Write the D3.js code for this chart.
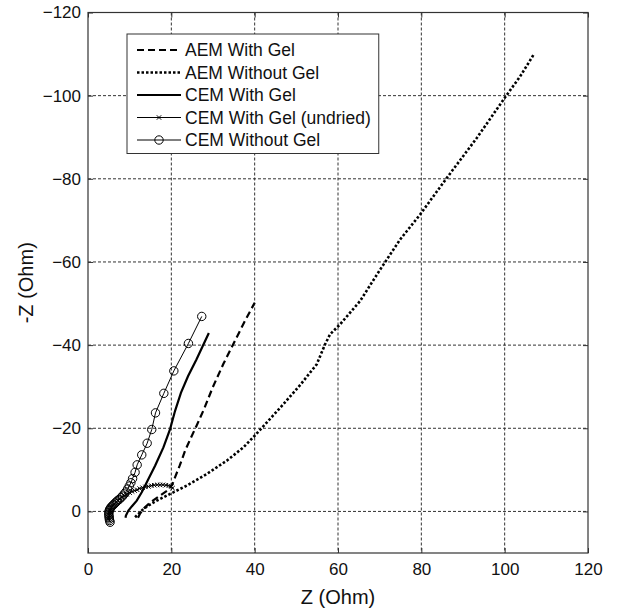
<!DOCTYPE html>
<html>
<head>
<meta charset="utf-8">
<script src="https://cdn.jsdelivr.net/npm/d3@7.9.0/dist/d3.min.js"></script>
<style>
  body { margin: 0; background: #fff; }
  text { font-family: Arial, "Liberation Sans", sans-serif; fill: #111; }
</style>
</head>
<body>
<svg id="chart" width="622" height="610"></svg>
<script>
// axis ticks
const xTicks = [0, 20, 40, 60, 80, 100, 120];
const yTicks = [-120, -100, -80, -60, -40, -20, 0];

// series data, [Z, -Z] pairs
const aemWithGel = [[12.0, 1.5], [12.5, 0.5], [13.5, -0.8], [15, -2.2], [17, -3.6], [19, -5.0], [20.2, -6.4], [21, -8.5], [22, -11], [23.3, -14.6], [24.6, -17.5], [26, -20.5], [27.8, -24.5], [30, -30], [32.5, -35.5], [35, -40.5], [37.5, -45.5], [40, -50.2]];
const aemWithoutGel = [[11.3, 1.4], [12.3, 0.4], [13.3, -0.6], [14.8, -1.6], [16.5, -2.6], [19.7, -4.2], [23.7, -6.2], [28.5, -9], [33.3, -12.2], [37.3, -15.4], [40, -18.2], [43, -21.5], [46.9, -25.8], [51, -30.5], [54.9, -35.4], [56.9, -40.2], [58.1, -42.6], [60.5, -45], [65.3, -50.6], [70, -58], [74.9, -65.4], [79.7, -71.4], [86.1, -80.2], [93.3, -89.8], [100.1, -99.6], [103.7, -104.6], [107.1, -110.1]];
const cemWithGel = [[9.0, 1.5], [9.1, 1.0], [9.7, -0.2], [10.5, -1.2], [11.7, -2.6], [12.9, -4.6], [14.5, -7.8], [16.1, -11], [18.1, -15.4], [19.7, -19.8], [20.9, -24.2], [22.3, -28.5], [24, -32.5], [26, -36.5], [29.0, -42.9]];
const cemWithGelUndried = [[5.0, 2.0], [5.0, 1.5], [5.1, 1.0], [5.1, 0.5], [5.2, 0.1], [5.3, -0.3], [5.5, -0.7], [5.7, -1.0], [6.0, -1.4], [6.3, -1.8], [6.7, -2.2], [7.1, -2.6], [7.6, -3.0], [8.1, -3.4], [8.7, -3.8], [9.3, -4.1], [10.0, -4.5], [10.6, -4.8], [11.2, -5.0], [11.8, -5.2], [12.4, -5.5], [13.1, -5.7], [13.8, -5.9], [14.5, -6.0], [15.2, -6.2], [15.9, -6.3], [16.6, -6.4], [17.3, -6.4], [18.0, -6.4], [18.7, -6.3], [19.4, -6.2], [20.0, -6.0], [20.3, -5.6]];
const cemWithoutGel = [[5.3, 2.6], [5.2, 2.2], [5.1, 1.8], [5.1, 1.4], [5.0, 1.0], [5.0, 0.6], [5.0, 0.2], [5.1, -0.2], [5.2, -0.5], [5.4, -0.8], [5.6, -1.1], [5.9, -1.4], [6.2, -1.7], [6.5, -2.0], [6.8, -2.3], [7.1, -2.6], [7.5, -2.9], [7.9, -3.3], [8.3, -3.7], [8.7, -4.2], [9.1, -4.7], [9.5, -5.4], [9.9, -6.1], [10.3, -6.9], [10.7, -7.9], [11.3, -9.4], [11.8, -11.2], [12.9, -13.6], [14.2, -16.4], [15.3, -19.7], [16.2, -23.7], [18.2, -28.4], [20.6, -33.8], [24.1, -40.4], [27.3, -46.9]];

const seriesNames = ["AEM With Gel", "AEM Without Gel", "CEM With Gel", "CEM With Gel (undried)", "CEM Without Gel"];

// styles per series
const series = [
    { name: seriesNames[0], data: aemWithGel, width: 2.2, dash: "7,4", marker: null },
    { name: seriesNames[1], data: aemWithoutGel, width: 2.6, dash: "2.5,2", marker: null },
    { name: seriesNames[2], data: cemWithGel, width: 2.2, dash: null, marker: null },
    { name: seriesNames[3], data: cemWithGelUndried, width: 1, dash: null, marker: "x" },
    { name: seriesNames[4], data: cemWithoutGel, width: 1, dash: null, marker: "o" },
];

const svg = d3.select("#chart");
const plotLeft = 88, plotRight = 588, plotTop = 12.5, plotBottom = 553;

let x = d3.scaleLinear().domain([0, 120]).range([plotLeft, plotRight]);
let y = d3.scaleLinear().domain([10, -120]).range([plotBottom, plotTop]);

// dotted grid
const grid = svg.append("g").attr("stroke", "#333").attr("stroke-width", 1).attr("stroke-dasharray", "3,2");
xTicks.slice(1, -1).forEach((t) => {
    grid.append("line").attr("x1", x(t)).attr("x2", x(t)).attr("y1", plotTop).attr("y2", plotBottom);
});
yTicks.slice(1).forEach((t) => {
    grid.append("line").attr("x1", plotLeft).attr("x2", plotRight).attr("y1", y(t)).attr("y2", y(t));
});

// axes with ticks pointing inward
const fontSize = 17;
svg.append("g").attr("transform", `translate(0,${plotBottom})`)
    .call(d3.axisBottom(x).tickValues(xTicks).tickSize(-5).tickSizeOuter(0).tickPadding(10));
svg.append("g").attr("transform", `translate(${plotLeft},0)`)
    .call(d3.axisLeft(y).tickValues(yTicks).tickSize(-5).tickSizeOuter(0).tickPadding(7));
svg.append("g").attr("transform", `translate(0,${plotTop})`)
    .call(d3.axisTop(x).tickValues(xTicks).tickSize(-5).tickSizeOuter(0).tickFormat(""));
svg.append("g").attr("transform", `translate(${plotRight},0)`)
    .call(d3.axisRight(y).tickValues(yTicks).tickSize(-5).tickSizeOuter(0).tickFormat(""));
svg.selectAll(".domain").remove();
svg.selectAll(".tick line").attr("stroke", "#333");
svg.selectAll(".tick text").attr("font-size", fontSize).attr("font-family", "Arial, 'Liberation Sans', sans-serif").attr("fill", "#111");

// plot frame
svg.append("rect").attr("x", plotLeft).attr("y", plotTop).attr("width", plotRight - plotLeft).attr("height", plotBottom - plotTop)
    .attr("fill", "none").attr("stroke", "#333").attr("stroke-width", 1.2);

// axis titles
svg.append("text").attr("x", (plotLeft + plotRight) / 2).attr("y", 604).attr("text-anchor", "middle")
    .attr("font-size", 20).text("Z (Ohm)");
svg.append("text").attr("transform", `translate(33,${(plotTop + plotBottom) / 2}) rotate(-90)`)
    .attr("text-anchor", "middle").attr("font-size", 20).text("-Z (Ohm)");

// draw a marker at (cx, cy)
function drawMarker(g, type, cx, cy) {
    if (type === "o") {
        g.append("circle").attr("cx", cx).attr("cy", cy).attr("r", 4.2)
            .attr("fill", "none").attr("stroke", "#000").attr("stroke-width", 1);
    } else if (type === "x") {
        const s = 2.2;
        g.append("path").attr("d", `M${cx - s},${cy - s}L${cx + s},${cy + s}M${cx - s},${cy + s}L${cx + s},${cy - s}`)
            .attr("stroke", "#000").attr("stroke-width", 1);
    }
}

// series lines and markers
const line = d3.line().x((d) => x(d[0])).y((d) => y(d[1]));
const plot = svg.append("g");
series.forEach((s) => {
    plot.append("path").attr("d", line(s.data)).attr("fill", "none").attr("stroke", "#000")
        .attr("stroke-width", s.width).attr("stroke-dasharray", s.dash);
    if (s.marker) {
        s.data.forEach((d) => drawMarker(plot, s.marker, x(d[0]), y(d[1])));
    }
});

// legend box
const legend = svg.append("g");
const lx = 127, ly = 34, rowH = 22.5;
const legendBox = legend.append("rect").attr("x", lx).attr("y", ly).attr("height", rowH * 5 + 7)
    .attr("fill", "#fff").attr("stroke", "#333").attr("stroke-width", 1);
let maxW = 0;
series.forEach((s, idx) => {
    const cy = ly + 16 + idx * rowH;
    legend.append("line").attr("x1", lx + 10).attr("x2", lx + 54).attr("y1", cy).attr("y2", cy)
        .attr("stroke", "#000").attr("stroke-width", s.width).attr("stroke-dasharray", s.dash);
    if (s.marker) drawMarker(legend, s.marker, lx + 32, cy);
    const t = legend.append("text").attr("x", lx + 58).attr("y", cy).attr("dy", "0.35em")
        .attr("font-size", 17.5).text(s.name);
    maxW = Math.max(maxW, t.node().getComputedTextLength());
});
legendBox.attr("width", 58 + maxW + 8);
</script>
</body>
</html>
